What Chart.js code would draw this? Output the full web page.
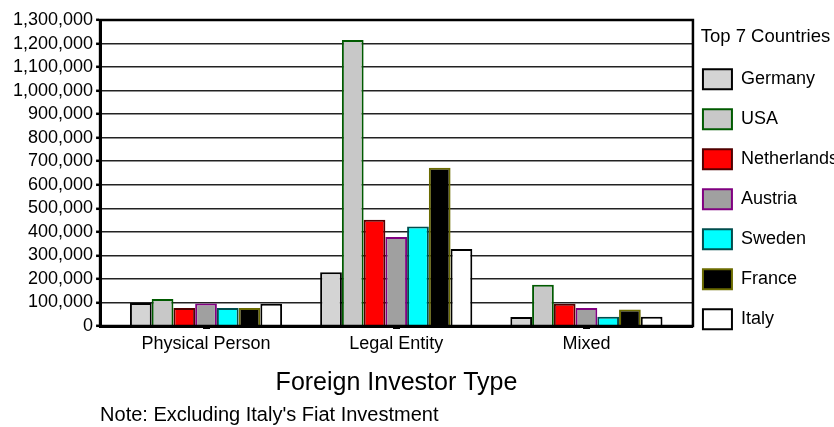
<!DOCTYPE html>
<html lang="en">
<head>
    <meta charset="UTF-8">
    <title>Foreign Investment by Investor Type</title>
    <script src="https://cdn.jsdelivr.net/npm/chart.js"></script>
    <style>
        body {
            margin: 0;
            background: #ffffff;
        }
        #investorChart {
            display: block;
        }
    </style>
</head>
<body>
    <canvas id="investorChart" width="834" height="427"></canvas>

    <script>
        // Investor types along the x axis
        const investorTypes = ['Physical Person', 'Legal Entity', 'Mixed'];

        // Investment per country, one value per investor type
        const germany     = [98000, 228000, 38000];
        const usa         = [115000, 1215000, 175000];
        const netherlands = [77000, 451000, 94000];
        const austria     = [96000, 378000, 76000];
        const sweden      = [76000, 423000, 39000];
        const france      = [76000, 672000, 70000];
        const italy       = [94000, 327000, 39000];

        // Value axis range
        const yMax = 1300000;
        const yStep = 100000;

        Chart.defaults.font.family = "'Liberation Sans', Arial, sans-serif";
        Chart.defaults.color = '#000';

        function series(label, values, fill, edge) {
            return {
                label: label,
                data: values.map((v, i) => ({ x: i, y: v })),
                backgroundColor: fill,
                borderColor: edge,
                borderWidth: 2,
                categoryPercentage: 0.8,
                barPercentage: 1.0
            };
        }

        // box around the plot + legend pulled closer to it
        const plotFrame = {
            id: 'plotFrame',
            afterLayout(chart) {
                chart.legend.left -= 10;
                chart.legend.right -= 10;
            },
            afterDatasetsDraw(chart) {
                const { ctx, chartArea: a } = chart;
                ctx.save();
                ctx.strokeStyle = '#000';
                ctx.lineWidth = 2.5;
                ctx.strokeRect(a.left, a.top, a.right - a.left, a.bottom - a.top);
                ctx.restore();
            }
        };

        const ctx = document.getElementById('investorChart').getContext('2d');
        const chart = new Chart(ctx, {
            type: 'bar',
            data: {
                datasets: [
                    series('Germany', germany, '#d4d4d4', '#000000'),
                    series('USA', usa, '#c8c8c8', '#005a00'),
                    series('Netherlands', netherlands, '#ff0000', '#500000'),
                    series('Austria', austria, '#a0a0a0', '#800080'),
                    series('Sweden', sweden, '#00ffff', '#004d4d'),
                    series('France', france, '#000000', '#6b6b00'),
                    series('Italy', italy, '#ffffff', '#000000')
                ]
            },
            options: {
                responsive: false,
                animation: false,
                devicePixelRatio: 1,
                locale: 'en-US',
                layout: {
                    padding: { left: 10, top: 20, right: -24, bottom: 0 }
                },
                scales: {
                    x: {
                        type: 'linear',
                        min: -0.557,
                        max: 2.56,
                        offset: false,
                        bounds: 'data',
                        afterBuildTicks: (scale) => {
                            scale.ticks = investorTypes.map((t, i) => ({ value: i }));
                        },
                        border: { display: true, color: '#000', width: 3 },
                        grid: {
                            offset: false,
                            drawOnChartArea: false,
                            drawTicks: true,
                            tickLength: 3,
                            tickWidth: 7,
                            tickColor: '#000'
                        },
                        ticks: {
                            autoSkip: false,
                            maxRotation: 0,
                            padding: 4,
                            font: { size: 18 },
                            color: '#000',
                            callback: (v) => investorTypes[v]
                        },
                        title: {
                            display: true,
                            text: 'Foreign Investor Type',
                            font: { size: 25 },
                            color: '#000',
                            padding: { top: 9.4, bottom: 0 }
                        }
                    },
                    y: {
                        min: 0,
                        max: yMax,
                        border: { display: true, color: '#000', width: 3 },
                        grid: {
                            color: '#222',
                            lineWidth: 1.6,
                            tickLength: 4,
                            tickWidth: 2.5,
                            tickColor: '#000'
                        },
                        ticks: {
                            stepSize: yStep,
                            autoSkip: false,
                            padding: 3,
                            font: { size: 18 },
                            color: '#000'
                        }
                    }
                },
                plugins: {
                    legend: {
                        position: 'right',
                        align: 'start',
                        title: {
                            display: true,
                            text: 'Top 7 Countries',
                            font: { size: 18.5, lineHeight: 1.15 },
                            color: '#000',
                            padding: { top: 8, bottom: 0 }
                        },
                        labels: {
                            boxWidth: 29,
                            boxHeight: 20,
                            padding: 20,
                            color: '#000',
                            font: { size: 18 }
                        }
                    },
                    title: {
                        display: true,
                        text: "Note: Excluding Italy's Fiat Investment",
                        position: 'bottom',
                        align: 'start',
                        fullSize: false,
                        color: '#000',
                        font: { size: 20, weight: 'normal' },
                        padding: { top: 5, bottom: 0 }
                    },
                    tooltip: { enabled: false }
                }
            },
            plugins: [plotFrame]
        });
    </script>
</body>
</html>
